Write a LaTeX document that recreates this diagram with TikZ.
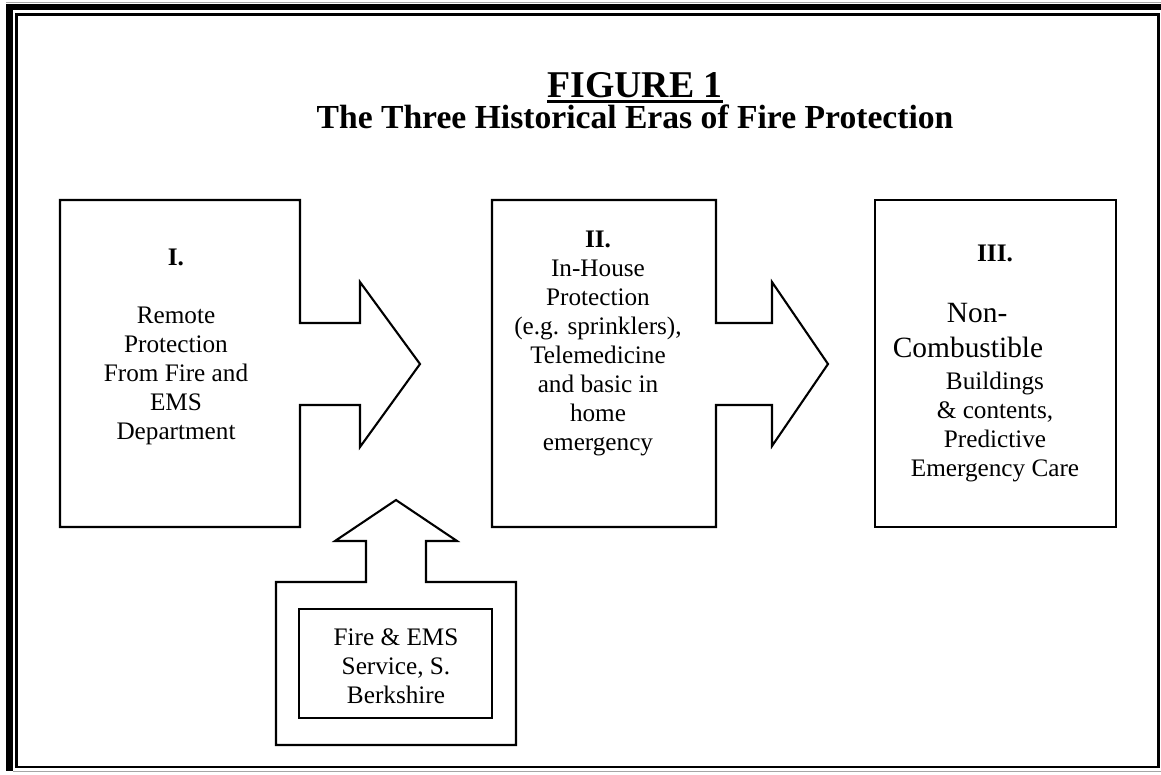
\documentclass[tikz,border=0pt]{standalone}
\usepackage{fontspec}
\setmainfont{Liberation Serif}
\begin{document}
\begin{tikzpicture}[
    x=0.476pt, y=-0.476pt,
    outline/.style={draw, line width=1pt, line join=miter},
    eratext/.style={align=center, inner sep=0pt, anchor=north, font=\fontsize{12}{13.8}\selectfont},
    boxtext/.style={align=center, inner sep=0pt, font=\fontsize{12}{13.8}\selectfont},
    titletext/.style={inner sep=0pt, anchor=base, font=\fontsize{18}{21.6}\selectfont\bfseries},
    subtitletext/.style={inner sep=0pt, anchor=base, font=\fontsize{16}{19.2}\selectfont\bfseries}
]
\useasboundingbox (0,0) rectangle (1161,774);
% page frame
\fill[black] (6,4) rectangle (1161,10);
\fill[black] (6,4) rectangle (13,771);
\draw[gray!70, line width=0.6pt] (13,771.5) -- (1161,771.5);
\draw[gray!70, line width=0.6pt] (6,2.5) -- (1161,2.5);
\draw[line width=1.3pt] (16.5,14.5) rectangle (1158.5,767);

% heading
\node[titletext] (fig) at (635,97) {FIGURE 1};
\draw[line width=1.4pt] ([yshift=-2.2pt]fig.base west) -- ([yshift=-2.2pt]fig.base east);
\node[subtitletext] (sub) at (635,128) {The Three Historical Eras of Fire Protection};

% era I with arrow
\draw[outline] (60,200) -- (300,200) -- (300,323) -- (360,323) -- (360,282)
    -- (420,364) -- (360,447) -- (360,405) -- (300,405) -- (300,527)
    -- (60,527) -- cycle;
\node[eratext] (eraone) at (176,249) {\textbf{I.}\\[13.8pt]Remote\\Protection\\From Fire and\\EMS\\Department};

% era II with arrow
\draw[outline] (492,200) -- (716,200) -- (716,323) -- (772,323) -- (772,282)
    -- (828,364) -- (772,446) -- (772,405) -- (716,405) -- (716,527)
    -- (492,527) -- cycle;
\node[eratext] (eratwo) at (598,231) {\textbf{II.}\\In-House\\Protection\\(e.g. sprinklers),\\Telemedicine\\and basic in\\home\\emergency};

% era III
\draw[outline] (875,200) rectangle (1116,527);
\node[eratext] (erathree) at (995,245) {\textbf{III.}\\[15.2pt]\mbox{\fontsize{14}{16.1}\selectfont Non-\hspace{17pt}}\\[2.9pt]\mbox{\fontsize{14}{16.1}\selectfont Combustible\hspace{25.7pt}}\\[1.4pt]Buildings\\\& contents,\\Predictive\\Emergency Care};

% service with upward arrow
\draw[outline] (396,500) -- (457,541) -- (426,541) -- (426,582) -- (516,582)
    -- (516,745) -- (276,745) -- (276,582) -- (366,582) -- (366,541)
    -- (335,541) -- cycle;
\draw[outline] (299,609) rectangle (492,718);
\node[boxtext] (service) at (396,666) {Fire \& EMS\\Service, S.\\Berkshire};
\end{tikzpicture}
\end{document}
